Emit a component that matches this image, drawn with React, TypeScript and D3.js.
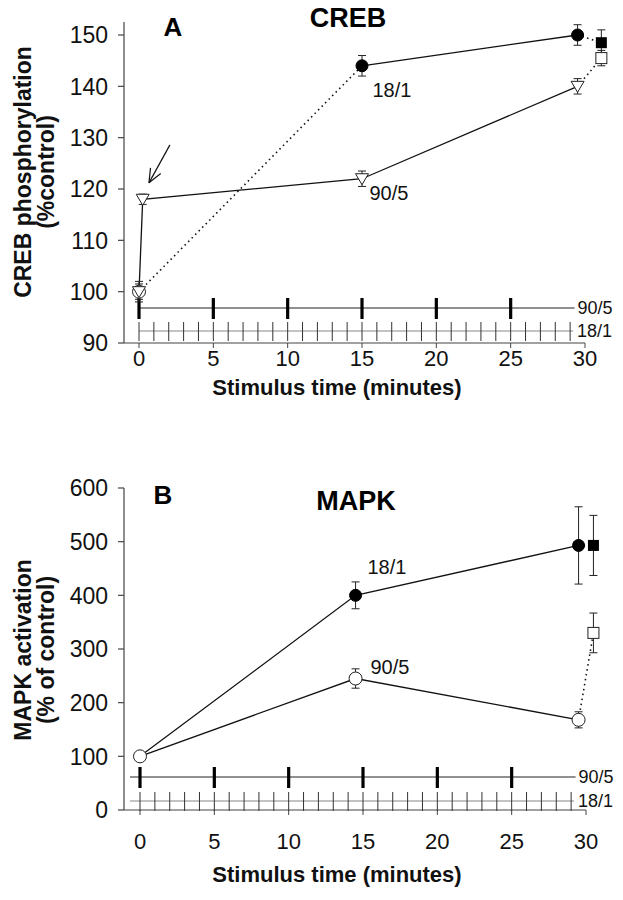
import React from "react";
import * as d3 from "d3";

const W = 623;
const H = 900;
const FONT = "'Liberation Sans', Arial, Helvetica, sans-serif";

// shared axis info
const xTicks = [0, 5, 10, 15, 20, 25, 30];
const pulses905 = [0, 5, 10, 15, 20, 25];
const pulses181 = [0, 1, 2, 3, 4, 5, 6, 7, 8, 9, 10, 11, 12, 13, 14, 15, 16, 17, 18, 19, 20, 21, 22, 23, 24, 25, 26, 27, 28, 29];

// Panel A: CREB
const crebTicks = [90, 100, 110, 120, 130, 140, 150];
const crebT181 = [0, 15, 29.5];
const crebV181 = [100, 144, 150];
const crebE181 = [2, 2, 2];
const crebT905 = [0, 0.25, 15, 29.5];
const crebV905 = [100, 118, 122, 140];
const crebE905 = [1.5, 1, 1.5, 1.5];
const crebSqT = [31.1];
const crebSqFilled = [148.5];
const crebSqFilledE = [2.5];
const crebSqOpen = [145.5];
const crebSqOpenE = [1.5];

// Panel B: MAPK
const mapkTicks = [0, 100, 200, 300, 400, 500, 600];
const mapkT181 = [0, 14.5, 29.5];
const mapkV181 = [100, 400, 493];
const mapkE181 = [0, 25, 72];
const mapkT905 = [0, 14.5, 29.5];
const mapkV905 = [100, 245, 168];
const mapkE905 = [0, 18, 15];
const mapkSqT = [30.5];
const mapkSqFilled = [493];
const mapkSqFilledE = [56];
const mapkSqOpen = [330];
const mapkSqOpenE = [37];

type Pt = [number, number];

function ErrBar({ x, y, e, sy }: { x: number; y: number; e: number; sy: any }) {
  if (!e) return null;
  const y1 = sy(y + e);
  const y2 = sy(y - e);
  return (
    <g stroke="#222" strokeWidth={1}>
      <line x1={x} x2={x} y1={y1} y2={y2} />
      <line x1={x - 4} x2={x + 4} y1={y1} y2={y1} />
      <line x1={x - 4} x2={x + 4} y1={y2} y2={y2} />
    </g>
  );
}

function Marker({ kind, x, y }: { kind: string; x: number; y: number }) {
  if (kind === "circleFilled") return <circle cx={x} cy={y} r={6} fill="#000" stroke="#000" />;
  if (kind === "circleOpen") return <circle cx={x} cy={y} r={6.5} fill="#fff" stroke="#222" strokeWidth={1} />;
  if (kind === "squareFilled") return <rect x={x - 5.5} y={y - 5.5} width={11} height={11} fill="#000" />;
  if (kind === "squareOpen") return <rect x={x - 5.5} y={y - 5.5} width={11} height={11} fill="#fff" stroke="#222" strokeWidth={1} />;
  if (kind === "triangle") {
    const p = `M${x - 6.5},${y - 5} L${x + 6.5},${y - 5} L${x},${y + 6} Z`;
    return <path d={p} fill="#fff" stroke="#222" strokeWidth={1} />;
  }
  return null;
}

function Panel(props: any) {
  const { xr, yDomain, yRange, yTicks, axisTop, stim905Y, stim181Y, stimStart, letter, letterPos, title, titlePos, ylab1, ylab2, ylabY, xlabY, tickLabelY } = props;
  const sx = d3.scaleLinear().domain([0, 30]).range(xr);
  const sy = d3.scaleLinear().domain(yDomain).range(yRange);
  const line = d3.line<Pt>().x((d) => sx(d[0])).y((d) => sy(d[1]));
  const axisX = 124;
  const baseY = yRange[0];

  return (
    <g fontFamily={FONT}>
      {/* y axis */}
      <line x1={axisX} x2={axisX} y1={axisTop} y2={baseY} stroke="#444" strokeWidth={1.2} />
      {yTicks.map((t: number) => (
        <g key={"yt" + t}>
          <line x1={axisX - 6} x2={axisX} y1={sy(t)} y2={sy(t)} stroke="#444" strokeWidth={1.2} />
          <text x={108} y={sy(t)} dy="0.36em" textAnchor="end" fontSize={23} fill="#111">{t}</text>
        </g>
      ))}
      {/* x axis */}
      <line x1={axisX} x2={sx(30)} y1={baseY} y2={baseY} stroke="#444" strokeWidth={1.2} />
      {xTicks.map((t: number) => (
        <g key={"xt" + t}>
          <line x1={sx(t)} x2={sx(t)} y1={baseY} y2={baseY + 5} stroke="#444" strokeWidth={1} />
          <text x={sx(t)} y={tickLabelY} textAnchor="middle" fontSize={22} fill="#111">{t}</text>
        </g>
      ))}
      <text x={337} y={xlabY} textAnchor="middle" fontSize={22} fontWeight="bold" fill="#111">Stimulus time (minutes)</text>
      {/* y label */}
      <g transform={`translate(31,${ylabY}) rotate(-90)`}>
        <text x={0} y={0} textAnchor="middle" fontSize={23} fontWeight="bold" fill="#111">{ylab1}</text>
        <text x={0} y={23} textAnchor="middle" fontSize={23} fontWeight="bold" fill="#111">{ylab2}</text>
      </g>
      {/* stimulus protocol lines */}
      <line x1={stimStart} x2={sx(29.3)} y1={stim905Y} y2={stim905Y} stroke="#222" strokeWidth={1} />
      {pulses905.map((p) => (
        <line key={"p9" + p} x1={sx(p)} x2={sx(p)} y1={stim905Y - 10} y2={stim905Y + 11} stroke="#000" strokeWidth={3.2} />
      ))}
      <text x={sx(29.3) + 3} y={stim905Y} dy="0.36em" fontSize={18} fill="#111">90/5</text>
      <line x1={stimStart} x2={sx(29.2)} y1={stim181Y} y2={stim181Y} stroke="#888" strokeWidth={1.2} />
      {pulses181.map((p) => (
        <line key={"p1" + p} x1={sx(p)} x2={sx(p)} y1={stim181Y - 9} y2={stim181Y + 10} stroke="#333" strokeWidth={1} />
      ))}
      <text x={sx(29.2) + 4} y={stim181Y} dy="0.36em" fontSize={18} fill="#111">18/1</text>
      {/* panel letter and title */}
      <text x={letterPos[0]} y={letterPos[1]} dy="0.36em" textAnchor="middle" fontSize={26} fontWeight="bold" fill="#000">{letter}</text>
      <text x={titlePos[0]} y={titlePos[1]} dy="0.36em" textAnchor="middle" fontSize={27} fontWeight="bold" fill="#000">{title}</text>
      {/* series lines */}
      {props.solid.map((pts: Pt[], i: number) => (
        <path key={"s" + i} d={line(pts) || ""} fill="none" stroke="#111" strokeWidth={1.3} />
      ))}
      {props.dotted.map((pts: Pt[], i: number) => (
        <path key={"d" + i} d={line(pts) || ""} fill="none" stroke="#111" strokeWidth={1.6} strokeDasharray="1.5,3.5" />
      ))}
      {/* error bars and markers */}
      {props.points.map((p: any, i: number) => (
        <ErrBar key={"e" + i} x={sx(p.t)} y={p.v} e={p.e} sy={sy} />
      ))}
      {props.points.map((p: any, i: number) => (
        <Marker key={"m" + i} kind={p.kind} x={sx(p.t)} y={sy(p.v)} />
      ))}
      {/* series labels */}
      {props.labels.map((l: any, i: number) => (
        <text key={"l" + i} x={sx(l.t)} y={sy(l.v)} dy="0.36em" fontSize={20} fill="#111">{l.text}</text>
      ))}
      {props.arrow && (() => {
        const a = props.arrow;
        const x1 = sx(a.from[0]), y1 = sy(a.from[1]);
        const x2 = sx(a.to[0]), y2 = sy(a.to[1]);
        const ang = Math.atan2(y2 - y1, x2 - x1);
        const L = 15;
        const b1 = [x2 - L * Math.cos(ang - 0.4), y2 - L * Math.sin(ang - 0.4)];
        const b2 = [x2 - L * Math.cos(ang + 0.4), y2 - L * Math.sin(ang + 0.4)];
        return (
          <g stroke="#111" strokeWidth={1.2} fill="none">
            <line x1={x1} y1={y1} x2={x2} y2={y2} />
            <line x1={b1[0]} y1={b1[1]} x2={x2} y2={y2} />
            <line x1={b2[0]} y1={b2[1]} x2={x2} y2={y2} />
          </g>
        );
      })()}
    </g>
  );
}

const zip = (t: number[], v: number[]): Pt[] => t.map((x, i) => [x, v[i]] as Pt);

export default function App() {
  // Panel A segments
  const a181: Pt[] = zip(crebT181, crebV181);
  const a905: Pt[] = zip(crebT905, crebV905);
  const aSolid = [a181.slice(1), a905];
  const aDotted = [
    a181.slice(0, 2),
    [a181[2], [crebSqT[0], crebSqFilled[0]] as Pt],
    [a905[3], [crebSqT[0], crebSqOpen[0]] as Pt],
  ];
  const aPoints = [
    { t: crebT181[0], v: crebV181[0], e: crebE181[0], kind: "circleOpen" },
    ...crebT905.map((t, i) => ({ t, v: crebV905[i], e: crebE905[i], kind: "triangle" })),
    ...crebT181.slice(1).map((t, i) => ({ t, v: crebV181[i + 1], e: crebE181[i + 1], kind: "circleFilled" })),
    { t: crebSqT[0], v: crebSqFilled[0], e: crebSqFilledE[0], kind: "squareFilled" },
    { t: crebSqT[0], v: crebSqOpen[0], e: crebSqOpenE[0], kind: "squareOpen" },
  ];
  const aLabels = [
    { t: 15.7, v: 139.3, text: "18/1" },
    { t: 15.5, v: 119.2, text: "90/5" },
  ];

  // Panel B segments
  const b181: Pt[] = zip(mapkT181, mapkV181);
  const b905: Pt[] = zip(mapkT905, mapkV905);
  const bSolid = [b181, b905];
  const bDotted = [
    [b181[2], [mapkSqT[0], mapkSqFilled[0]] as Pt],
    [b905[2], [mapkSqT[0], mapkSqOpen[0]] as Pt],
  ];
  const bPoints = [
    ...mapkT181.slice(1).map((t, i) => ({ t, v: mapkV181[i + 1], e: mapkE181[i + 1], kind: "circleFilled" })),
    ...mapkT905.map((t, i) => ({ t, v: mapkV905[i], e: mapkE905[i], kind: "circleOpen" })),
    { t: mapkSqT[0], v: mapkSqFilled[0], e: mapkSqFilledE[0], kind: "squareFilled" },
    { t: mapkSqT[0], v: mapkSqOpen[0], e: mapkSqOpenE[0], kind: "squareOpen" },
  ];
  const bLabels = [
    { t: 15.3, v: 453, text: "18/1" },
    { t: 15.5, v: 266, text: "90/5" },
  ];

  return (
    <svg width={W} height={H} viewBox={`0 0 ${W} ${H}`} style={{ position: "absolute", left: 0, top: 0, background: "#fff" }}>
      <rect x={0} y={0} width={W} height={H} fill="#fff" />
      <Panel
        xr={[139, 585]}
        yDomain={[90, 150]}
        yRange={[343, 35]}
        yTicks={crebTicks}
        axisTop={22}
        stim905Y={308}
        stim181Y={331}
        stimStart={139}
        letter="A"
        letterPos={[173, 27]}
        title="CREB"
        titlePos={[348, 17]}
        ylab1="CREB phosphorylation"
        ylab2="(%control)"
        ylabY={172}
        xlabY={395}
        tickLabelY={366}
        solid={aSolid}
        dotted={aDotted}
        points={aPoints}
        labels={aLabels}
        arrow={{ from: [2.08, 128.6], to: [0.67, 121.2] }}
      />
      <Panel
        xr={[140, 586]}
        yDomain={[0, 600]}
        yRange={[810, 488]}
        yTicks={mapkTicks}
        axisTop={488}
        stim905Y={777}
        stim181Y={801}
        stimStart={130}
        letter="B"
        letterPos={[163, 495]}
        title="MAPK"
        titlePos={[356, 500]}
        ylab1="MAPK activation"
        ylab2="(% of control)"
        ylabY={650}
        xlabY={882}
        tickLabelY={849}
        solid={bSolid}
        dotted={bDotted}
        points={bPoints}
        labels={bLabels}
      />
    </svg>
  );
}
